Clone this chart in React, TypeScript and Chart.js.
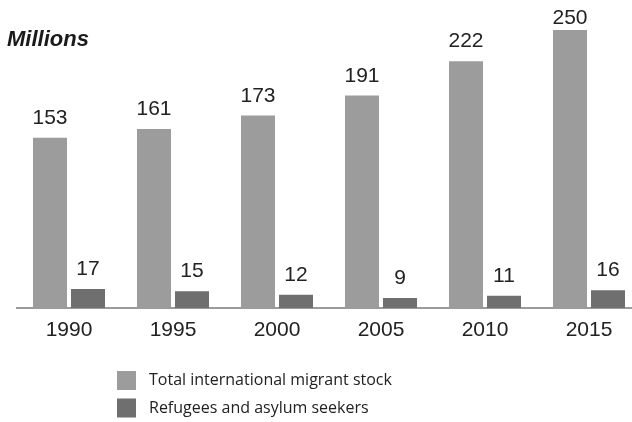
import React, { useEffect, useRef } from "react";
import { Chart, registerables } from "chart.js";

Chart.register(...registerables);

const years = ["1990", "1995", "2000", "2005", "2010", "2015"];
const totalMigrants = [153, 161, 173, 191, 222, 250];
const refugees = [17, 15, 12, 9, 11, 16];
const seriesNames = ["Total international migrant stock", "Refugees and asylum seekers"];
const seriesColors = ["#9b9c9b", "#6f6f6f"];
const unitLabel = "Millions";

const overlayPlugin = {
  id: "overlay",
  afterDatasetsDraw(chart: any) {
    const ctx = chart.ctx;
    ctx.save();
    // data labels
    ctx.font = '21px "Liberation Sans", Arial, sans-serif';
    ctx.fillStyle = "#222";
    ctx.textAlign = "center";
    ctx.textBaseline = "alphabetic";
    chart.data.datasets.forEach((ds: any, di: number) => {
      const meta = chart.getDatasetMeta(di);
      meta.data.forEach((el: any, i: number) => {
        ctx.fillText(String(ds.data[i]), el.x, Math.max(el.y - 14, 24));
      });
    });
    // unit title
    ctx.font = 'italic bold 22px "Liberation Sans", Arial, sans-serif';
    ctx.textAlign = "left";
    ctx.fillStyle = "#1a1a1a";
    ctx.fillText(unitLabel, 7, 46);
    // legend
    ctx.font = '16px "Open Sans", sans-serif';
    ctx.textBaseline = "middle";
    chart.data.datasets.forEach((ds: any, di: number) => {
      const cy = 380.5 + di * 27.5;
      ctx.fillStyle = ds.backgroundColor;
      ctx.fillRect(117, cy - 9.5, 19, 19);
      ctx.fillStyle = "#222";
      ctx.fillText(ds.label, 149, cy);
    });
    ctx.restore();
  },
};

export default function App() {
  const ref = useRef<HTMLCanvasElement | null>(null);
  useEffect(() => {
    if (!ref.current) return;
    const chart = new Chart(ref.current, {
      type: "bar",
      data: {
        labels: years,
        datasets: [
          { label: seriesNames[0], data: totalMigrants, backgroundColor: seriesColors[0] },
          { label: seriesNames[1], data: refugees, backgroundColor: seriesColors[1] },
        ],
      },
      options: {
        animation: false,
        responsive: false,
        devicePixelRatio: 1,
        layout: { padding: { top: 30, left: 17, right: 19, bottom: 0 } },
        datasets: { bar: { categoryPercentage: 0.7308, barPercentage: 0.8947 } } as any,
        plugins: { legend: { display: false }, tooltip: { enabled: false }, title: { display: false } },
        scales: {
          x: {
            grid: { display: false, drawTicks: false },
            border: { display: true, color: "#9a9a9a", width: 2 },
            ticks: {
              color: "#222",
              padding: 10,
              font: { family: '"Liberation Sans", Arial, sans-serif', size: 21 },
              maxRotation: 0,
            },
            afterFit: (s: any) => {
              s.height = 114;
            },
          },
          y: { display: false, min: 0, max: 250 },
        },
      },
      plugins: [overlayPlugin],
    });
    return () => chart.destroy();
  }, []);
  return (
    <div style={{ position: "fixed", top: 0, left: 0, width: 632, height: 422, overflow: "hidden", background: "#fff" }}>
      <canvas ref={ref} width={660} height={422} style={{ width: 660, height: 422, display: "block" }} />
    </div>
  );
}
